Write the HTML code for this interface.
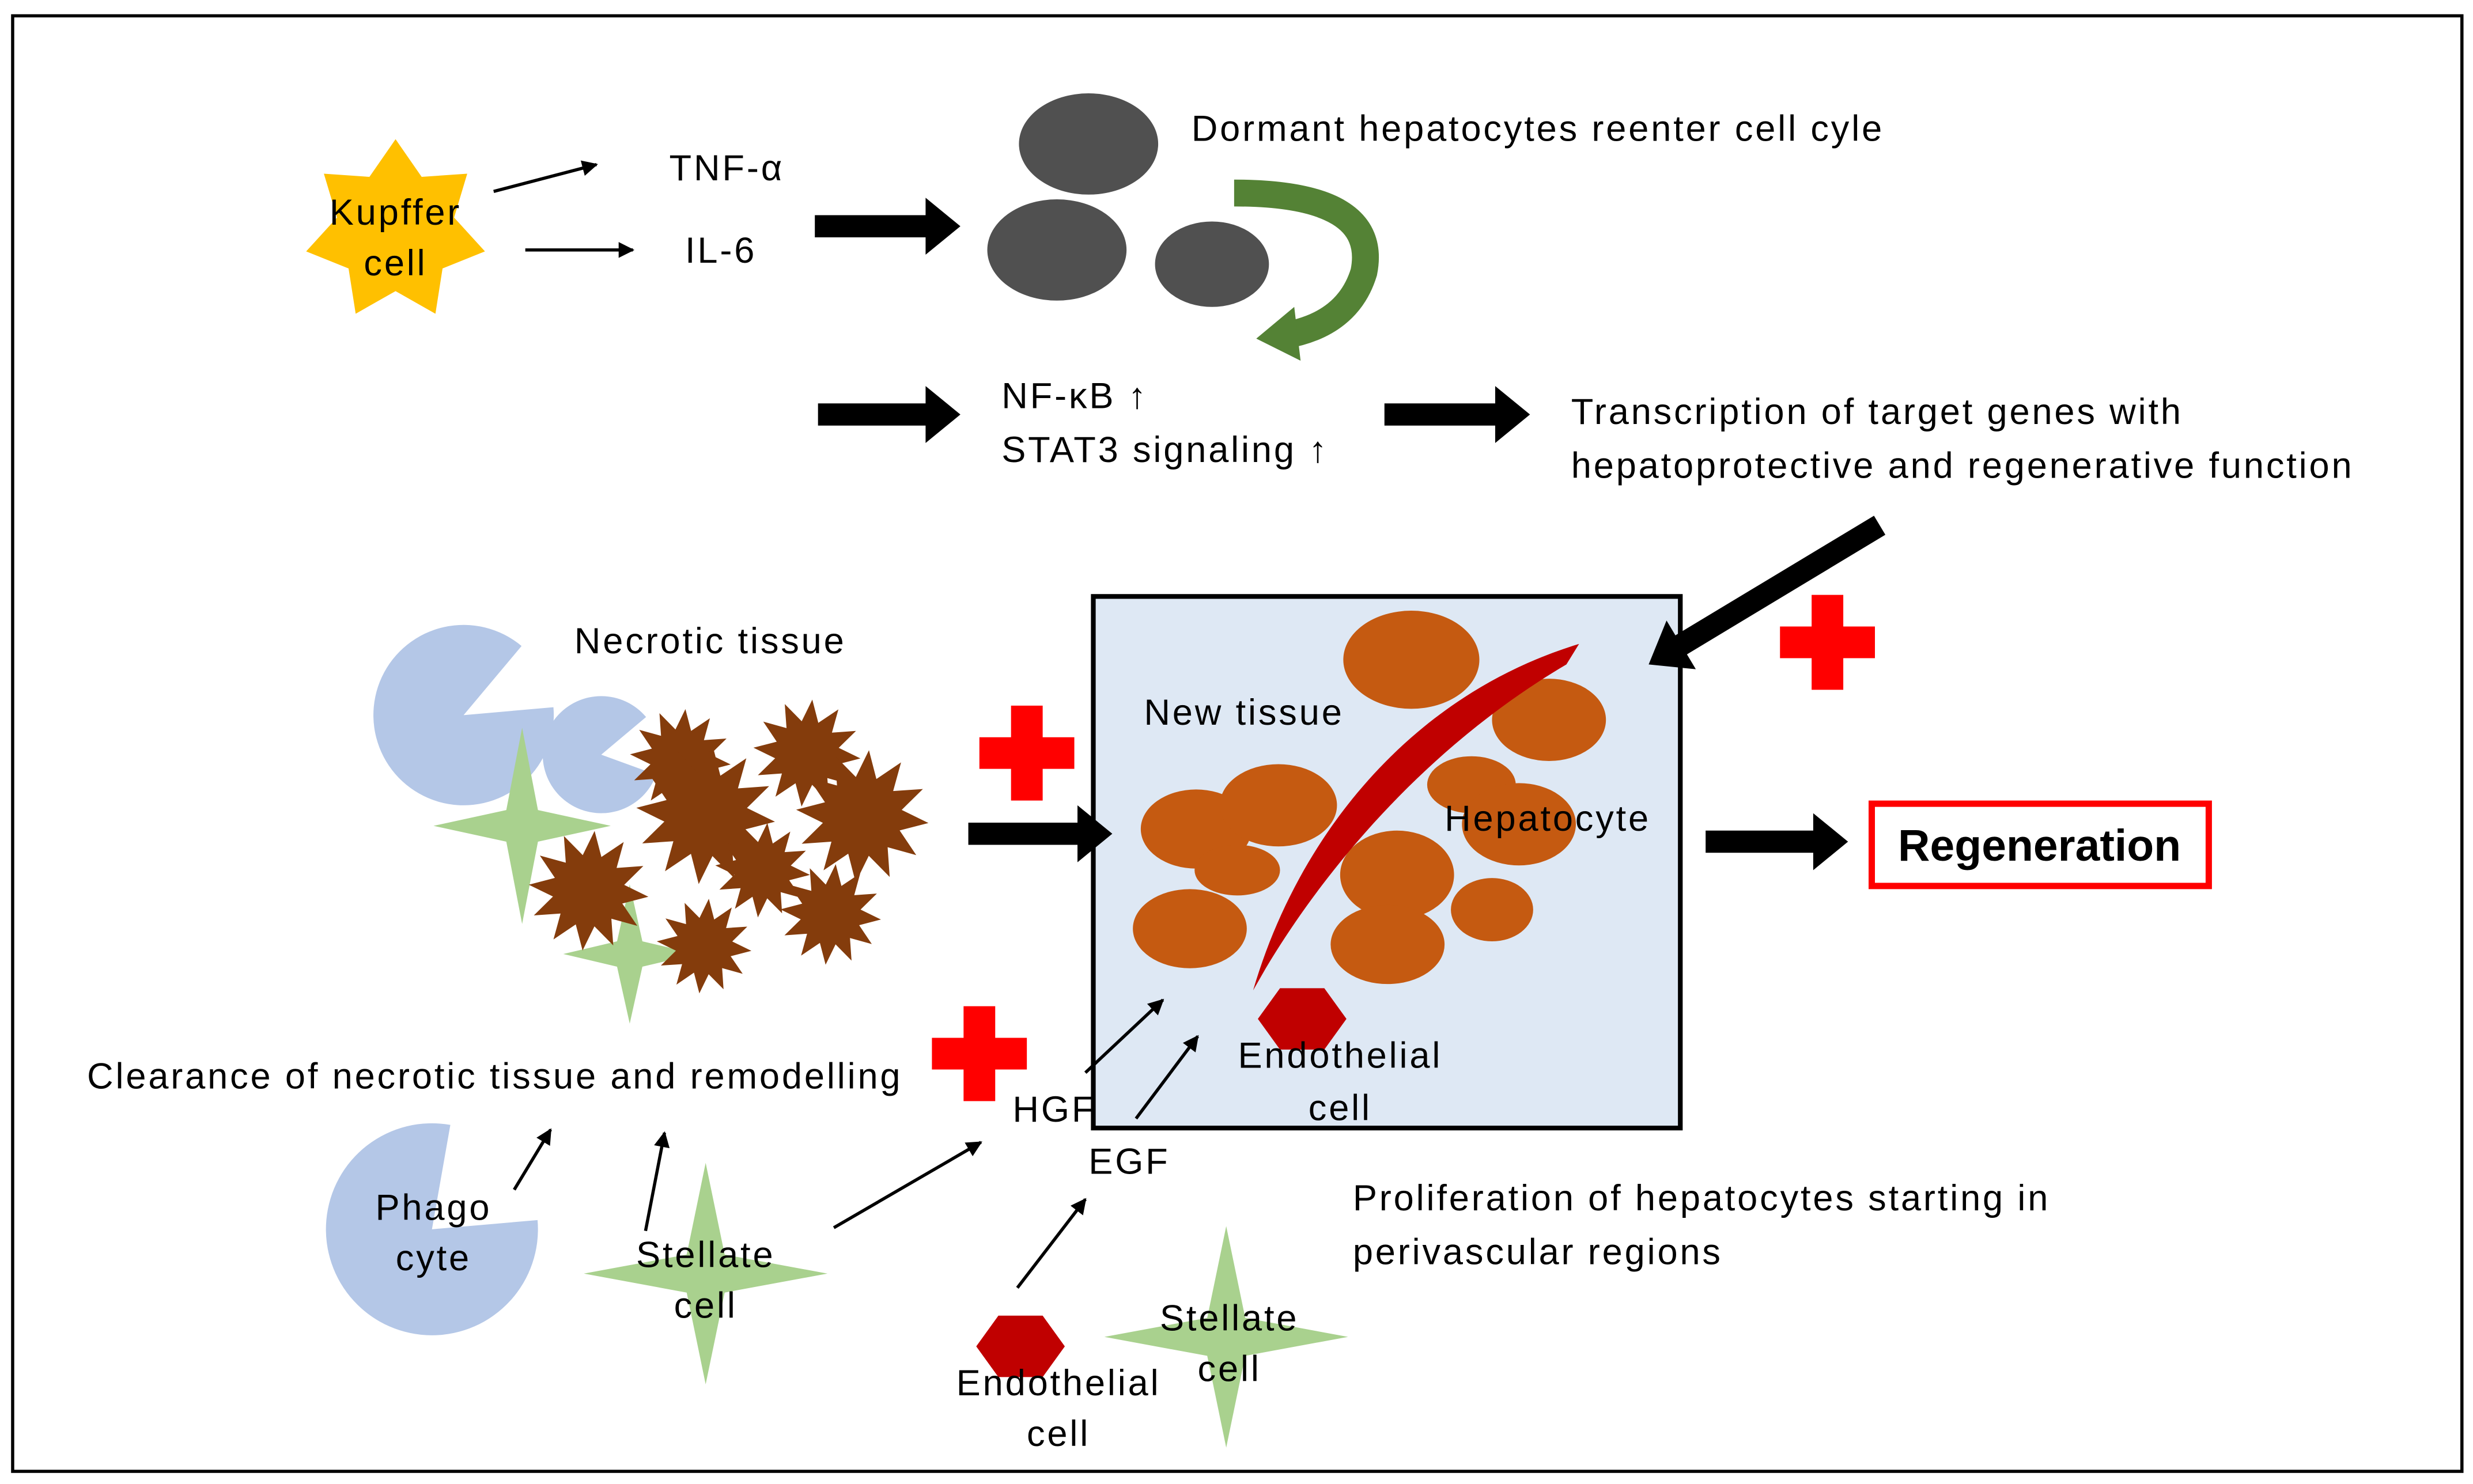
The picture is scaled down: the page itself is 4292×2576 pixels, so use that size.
<!DOCTYPE html>
<html><head><meta charset="utf-8"><style>
html,body{margin:0;padding:0;background:#fff}
svg{display:block}
text{font-family:"Liberation Sans","DejaVu Sans",sans-serif;font-size:23px;letter-spacing:1.4px;fill:#000}
</style></head><body>
<svg id="s" xmlns="http://www.w3.org/2000/svg" width="4292" height="2576" viewBox="0 0 1563 938" preserveAspectRatio="none">
<defs>
<marker id="ah" viewBox="0 0 10 10" refX="9" refY="5" markerWidth="5" markerHeight="5" orient="auto"><path d="M0,0 L10,5 L0,10 z" fill="#000"/></marker>
</defs>
<rect x="0" y="0" width="1563" height="938" fill="#fff"/>
<rect x="8" y="10" width="1548" height="920" fill="none" stroke="#000" stroke-width="2"/>
<g id="shapes"></g>

<line x1="312" y1="121" x2="377" y2="104" stroke="#000" stroke-width="2" marker-end="url(#ah)"/>
<line x1="332" y1="158" x2="400" y2="158" stroke="#000" stroke-width="2" marker-end="url(#ah)"/>

<ellipse cx="688" cy="91" rx="44" ry="32" fill="#505050"/>
<ellipse cx="668" cy="158" rx="44" ry="32" fill="#505050"/>
<ellipse cx="766" cy="167" rx="36" ry="27" fill="#505050"/>
<path d="M780,122 Q872,122 862,172 Q852,205 812,212" fill="none" stroke="#548235" stroke-width="17"/>
<polygon points="794,214 818,194 822,228" fill="#548235"/>

<!-- box -->
<rect x="691" y="377" width="371" height="336" fill="#DEE8F4" stroke="#000" stroke-width="3"/>
<g fill="#C55A11">
<ellipse cx="892" cy="417" rx="43" ry="31"/>
<ellipse cx="979" cy="455" rx="36" ry="26"/>
<ellipse cx="930" cy="496" rx="28" ry="18"/>
<ellipse cx="960" cy="521" rx="36" ry="26"/>
<ellipse cx="756" cy="524" rx="35" ry="25"/>
<ellipse cx="808" cy="509" rx="37" ry="26"/>
<ellipse cx="782" cy="550" rx="27" ry="16"/>
<ellipse cx="883" cy="553" rx="36" ry="28"/>
<ellipse cx="752" cy="587" rx="36" ry="25"/>
<ellipse cx="877" cy="597" rx="36" ry="25"/>
<ellipse cx="943" cy="575" rx="26" ry="20"/>
</g>
<path d="M792,626 C820,530 890,440 998,407 L990,420 C905,470 840,545 800,612 Z" fill="#C00000"/>

<g id="top"></g>

<text x="250" y="142" text-anchor="middle">Kupffer</text>
<text x="250" y="174" text-anchor="middle">cell</text>
<text x="423" y="114">TNF-α</text>
<text x="433" y="166">IL-6</text>
<text x="753" y="89">Dormant hepatocytes reenter cell cyle</text>
<text x="633" y="258">NF-κB ↑</text>
<text x="633" y="292">STAT3 signaling ↑</text>
<text x="993" y="268">Transcription of target genes with</text>
<text x="993" y="302">hepatoprotective and regenerative function</text>
<text x="723" y="458">New tissue</text>
<text x="913" y="525">Hepatocyte</text>
<text x="847" y="675" text-anchor="middle">Endothelial</text>
<text x="847" y="708" text-anchor="middle">cell</text>

<rect x="1183" y="508" width="213" height="52" fill="#fff" stroke="#FF0000" stroke-width="4"/>
<text x="1289" y="544" text-anchor="middle" style="font-size:28px;font-weight:bold;letter-spacing:0">Regeneration</text>

<text x="363" y="413">Necrotic tissue</text>
<text x="55" y="688">Clearance of necrotic tissue and remodelling</text>
<text x="274" y="771" text-anchor="middle">Phago</text>
<text x="274" y="803" text-anchor="middle">cyte</text>
<text x="446" y="801" text-anchor="middle">Stellate</text>
<text x="446" y="833" text-anchor="middle">cell</text>
<text x="640" y="709">HGF</text>
<text x="688" y="742">EGF</text>
<text x="855" y="765">Proliferation of hepatocytes starting in</text>
<text x="855" y="799">perivascular regions</text>
<text x="669" y="882" text-anchor="middle">Endothelial</text>
<text x="669" y="914" text-anchor="middle">cell</text>
<text x="777" y="841" text-anchor="middle">Stellate</text>
<text x="777" y="873" text-anchor="middle">cell</text>

<g stroke="#000" stroke-width="2" marker-end="url(#ah)">
<line x1="325" y1="752" x2="348" y2="714"/>
<line x1="408" y1="778" x2="420" y2="716"/>
<line x1="527" y1="776" x2="620" y2="722"/>
<line x1="686" y1="678" x2="735" y2="632"/>
<line x1="718" y1="707" x2="757" y2="655"/>
<line x1="643" y1="814" x2="686" y2="758"/>
</g>
</svg>
<script>
var NS="http://www.w3.org/2000/svg",g=document.getElementById("shapes"),gt=document.getElementById("top");
function el(t,a,parent){var e=document.createElementNS(NS,t);for(var k in a)e.setAttribute(k,a[k]);(parent||g).appendChild(e);return e;}
function star(cx,cy,n,ro,ri,fill,rot){rot=rot||0;var p=[];for(var i=0;i<2*n;i++){var r=i%2?ri:ro;var a=rot+Math.PI*i/n-Math.PI/2;p.push((cx+r*Math.cos(a)).toFixed(1)+","+(cy+r*Math.sin(a)).toFixed(1));}el("polygon",{points:p.join(" "),fill:fill});}
function star4(cx,cy,w,h,i,fill){el("polygon",{points:[cx,cy-h,cx+i,cy-i,cx+w,cy,cx+i,cy+i,cx,cy+h,cx-i,cy+i,cx-w,cy,cx-i,cy-i].join(" "),fill:fill});}
function pac(cx,cy,r,a1,a2,fill){var d=Math.PI/180,x1=cx+r*Math.cos(a1*d),y1=cy+r*Math.sin(a1*d),x2=cx+r*Math.cos(a2*d),y2=cy+r*Math.sin(a2*d);el("path",{d:"M"+cx+","+cy+" L"+x2+","+y2+" A"+r+","+r+" 0 1 1 "+x1+","+y1+" Z",fill:fill});}
function hex(cx,cy,r,fill,p0){var p=[];for(var i=0;i<6;i++){var a=Math.PI/3*i;p.push((cx+r*Math.cos(a)).toFixed(1)+","+(cy+r*0.8*Math.sin(a)).toFixed(1));}el("polygon",{points:p.join(" "),fill:fill},p0);}
function thick(x1,y1,x2,y2,w,hw,hl,p0){var dx=x2-x1,dy=y2-y1,L=Math.sqrt(dx*dx+dy*dy),ux=dx/L,uy=dy/L,nx=-uy,ny=ux,bx=x2-ux*hl,by=y2-uy*hl;
var pts=[[x1+nx*w/2,y1+ny*w/2],[bx+nx*w/2,by+ny*w/2],[bx+nx*hw,by+ny*hw],[x2,y2],[bx-nx*hw,by-ny*hw],[bx-nx*w/2,by-ny*w/2],[x1-nx*w/2,y1-ny*w/2]];
el("polygon",{points:pts.map(function(q){return q[0].toFixed(1)+","+q[1].toFixed(1)}).join(" "),fill:"#000"},p0);}
function cross(cx,cy,s,a,fill){el("path",{d:"M"+(cx-a/2)+","+(cy-s/2)+"h"+a+"v"+(s/2-a/2)+"h"+(s/2-a/2)+"v"+a+"h-"+(s/2-a/2)+"v"+(s/2-a/2)+"h-"+a+"v-"+(s/2-a/2)+"h-"+(s/2-a/2)+"v-"+a+"h"+(s/2-a/2)+"z",fill:fill});}

star(250,146,7,58,38,"#FFC000",0);
thick(515,143,607,143,14,18,22);
thick(517,262,607,262,14,18,22);
thick(875,262,967,262,14,18,22);
thick(1188,332,1042,420,14,18,24,gt);
thick(612,527,703,527,14,18,22,gt);
thick(1078,532,1168,532,14,18,22);
cross(1155,406,60,20,"#FF0000");
cross(649,476,60,20,"#FF0000");
cross(619,666,60,20,"#FF0000");
pac(293,452,57,-50,-5,"#B4C7E7");
pac(380,477,37,-40,20,"#B4C7E7");
pac(273,777,67,-80,-5,"#B4C7E7");
star4(330,522,56,62,10,"#A9D18E");
star4(398,603,42,44,8,"#A9D18E");
star4(446,805,77,70,12,"#A9D18E");
star4(775,845,77,70,12,"#A9D18E");
var b="#843C0C";
[[430,480,32],[510,476,34],[446,515,44],[545,516,42],[482,550,30],[372,563,38],[525,578,32],[445,598,30]].forEach(function(s){star(s[0],s[1],12,s[2],s[2]*0.6,b,0.1);});
hex(823,644,28,"#C00000",gt);
hex(645,851,28,"#C00000",gt);
</script>
</body></html>
